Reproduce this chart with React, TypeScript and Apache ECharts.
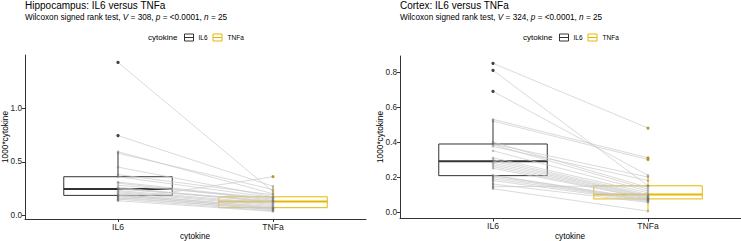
import React, { useEffect, useRef } from "react";
import * as echarts from "echarts";

const CATEGORIES = ["IL6", "TNFa"];
const BOX_COLORS = ["#333333", "#E7B800"];
const OUTLIER_COLORS = ["#000000", "#D9A800"];

// Hippocampus paired values (IL6[i] pairs with TNFa[i])
const hippoIL6 = [1.43, 0.745, 0.595, 0.58, 0.45, 0.38, 0.36, 0.31, 0.30, 0.28, 0.26, 0.25, 0.245, 0.23, 0.22, 0.21, 0.20, 0.19, 0.185, 0.18, 0.17, 0.16, 0.15, 0.14, 0.135];
const hippoTNFa = [0.22, 0.27, 0.20, 0.24, 0.172, 0.19, 0.165, 0.15, 0.14, 0.16, 0.12, 0.135, 0.128, 0.11, 0.10, 0.09, 0.07, 0.08, 0.06, 0.065, 0.05, 0.055, 0.04, 0.36, 0.035];

// Cortex paired values
const cortexIL6 = [0.85, 0.81, 0.69, 0.53, 0.52, 0.40, 0.389, 0.385, 0.375, 0.35, 0.31, 0.30, 0.291, 0.28, 0.27, 0.26, 0.25, 0.21, 0.208, 0.20, 0.19, 0.18, 0.16, 0.145, 0.133];
const cortexTNFa = [0.48, 0.15, 0.21, 0.31, 0.30, 0.14, 0.20, 0.13, 0.18, 0.12, 0.11, 0.10, 0.093, 0.09, 0.085, 0.08, 0.078, 0.075, 0.07, 0.068, 0.065, 0.06, 0.055, 0.149, 0.005];

const hippoTicks = [0, 0.5, 1.0];
const cortexTicks = [0, 0.2, 0.4, 0.6, 0.8];

const FONT = "Liberation Sans, Arial, sans-serif";
const BOX_WIDTH = 0.7;

function quantile(sorted: number[], p: number) {
  const h = (sorted.length - 1) * p;
  const lo = Math.floor(h);
  const hi = Math.min(lo + 1, sorted.length - 1);
  return sorted[lo] + (h - lo) * (sorted[hi] - sorted[lo]);
}

function boxStats(values: number[]) {
  const s = [...values].sort((a, b) => a - b);
  const q1 = quantile(s, 0.25);
  const med = quantile(s, 0.5);
  const q3 = quantile(s, 0.75);
  const iqr = q3 - q1;
  const inside = s.filter((v) => v >= q1 - 1.5 * iqr && v <= q3 + 1.5 * iqr);
  const outliers = s.filter((v) => v < q1 - 1.5 * iqr || v > q3 + 1.5 * iqr);
  return { lo: inside[0], q1, med, q3, hi: inside[inside.length - 1], outliers };
}

function panelSeries(idx: number, a: number[], b: number[]) {
  const sa = boxStats(a);
  const sb = boxStats(b);
  const boxData = [
    [1, sa.lo, sa.q1, sa.med, sa.q3, sa.hi, 0],
    [2, sb.lo, sb.q1, sb.med, sb.q3, sb.hi, 1],
  ];
  return [
    {
      type: "custom",
      xAxisIndex: idx,
      yAxisIndex: idx,
      z: 1,
      data: boxData,
      encode: { x: 0, y: [1, 2, 3, 4, 5] },
      renderItem: (params: any, api: any) => {
        const x = api.value(0);
        const ci = api.value(6);
        const color = BOX_COLORS[ci];
        const half = api.size([BOX_WIDTH, 0])[0] / 2;
        const pLo = api.coord([x, api.value(1)]);
        const pQ1 = api.coord([x, api.value(2)]);
        const pMed = api.coord([x, api.value(3)]);
        const pQ3 = api.coord([x, api.value(4)]);
        const pHi = api.coord([x, api.value(5)]);
        return {
          type: "group",
          children: [
            { type: "line", shape: { x1: pLo[0], y1: pLo[1], x2: pQ1[0], y2: pQ1[1] }, style: { stroke: color, lineWidth: 1 } },
            { type: "line", shape: { x1: pQ3[0], y1: pQ3[1], x2: pHi[0], y2: pHi[1] }, style: { stroke: color, lineWidth: 1 } },
            { type: "rect", shape: { x: pQ3[0] - half, y: pQ3[1], width: 2 * half, height: pQ1[1] - pQ3[1] }, style: { fill: "#ffffff", stroke: color, lineWidth: 1 } },
            { type: "line", shape: { x1: pMed[0] - half, y1: pMed[1], x2: pMed[0] + half, y2: pMed[1] }, style: { stroke: color, lineWidth: 2 } },
          ],
        };
      },
    },
    {
      type: "lines",
      coordinateSystem: "cartesian2d",
      xAxisIndex: idx,
      yAxisIndex: idx,
      z: 2,
      silent: true,
      lineStyle: { color: "#cacaca", width: 0.7, opacity: 1 },
      data: a.map((v, i) => ({ coords: [[1, v], [2, b[i]]] })),
    },
    {
      type: "scatter",
      xAxisIndex: idx,
      yAxisIndex: idx,
      z: 3,
      symbolSize: 3.2,
      itemStyle: { color: OUTLIER_COLORS[0] },
      data: sa.outliers.map((v) => [1, v]),
    },
    {
      type: "scatter",
      xAxisIndex: idx,
      yAxisIndex: idx,
      z: 3,
      symbolSize: 3.2,
      itemStyle: { color: OUTLIER_COLORS[1] },
      data: sb.outliers.map((v) => [2, v]),
    },
    {
      type: "scatter",
      xAxisIndex: idx,
      yAxisIndex: idx,
      z: 4,
      symbolSize: 2.6,
      itemStyle: { color: "rgba(100,100,100,0.5)" },
      data: [...a.map((v) => [1, v]), ...b.map((v) => [2, v])],
    },
  ];
}

function xAxisCfg(idx: number) {
  return {
    type: "value",
    gridIndex: idx,
    min: 0.4,
    max: 2.6,
    axisLine: { show: true, onZero: false, lineStyle: { color: "#333", width: 1 } },
    axisTick: { show: true, customValues: [1, 2], length: 3, lineStyle: { color: "#333" } },
    axisLabel: {
      customValues: [1, 2],
      formatter: (v: number) => CATEGORIES[Math.round(v) - 1] ?? "",
      fontSize: 8.6,
      color: "#222",
      fontFamily: FONT,
      margin: 3,
    },
    splitLine: { show: false },
  };
}

function yAxisCfg(idx: number, min: number, max: number, ticks: number[]) {
  return {
    type: "value",
    gridIndex: idx,
    min,
    max,
    axisLine: { show: true, onZero: false, lineStyle: { color: "#333", width: 1 } },
    axisTick: { show: true, customValues: ticks, length: 3, lineStyle: { color: "#333" } },
    axisLabel: {
      customValues: ticks,
      formatter: (v: number) => v.toFixed(1),
      fontSize: 8.2,
      color: "#222",
      fontFamily: FONT,
      margin: 3,
    },
    splitLine: { show: false },
  };
}

function headerGraphics(x: number, title: string, subtitle: string, legendX: number) {
  const textStyle = (t: string, size: number, extra: any = {}) => ({
    text: t,
    fontSize: size,
    fontFamily: FONT,
    fill: "#000",
    ...extra,
  });
  return [
    { type: "text", x, y: 5, style: { ...textStyle(title, 10), verticalAlign: "middle" } },
    {
      type: "text",
      x,
      y: 17,
      style: {
        ...textStyle(subtitle, 8.2),
        verticalAlign: "middle",
        rich: { i: { fontStyle: "italic", fontSize: 8.2, fontFamily: FONT, fill: "#000" } },
      },
    },
    { type: "text", x: legendX, y: 37.5, style: { ...textStyle("cytokine", 8), verticalAlign: "middle" } },
    { type: "rect", shape: { x: legendX + 36.5, y: 34, width: 9, height: 7 }, style: { fill: "#fff", stroke: BOX_COLORS[0], lineWidth: 1 } },
    { type: "line", shape: { x1: legendX + 36.5, y1: 37.5, x2: legendX + 45.5, y2: 37.5 }, style: { stroke: BOX_COLORS[0], lineWidth: 1 } },
    { type: "text", x: legendX + 50.5, y: 37.5, style: { ...textStyle("IL6", 6.5), verticalAlign: "middle" } },
    { type: "rect", shape: { x: legendX + 65, y: 34, width: 9, height: 7 }, style: { fill: "#fff", stroke: BOX_COLORS[1], lineWidth: 1 } },
    { type: "line", shape: { x1: legendX + 65, y1: 37.5, x2: legendX + 74, y2: 37.5 }, style: { stroke: BOX_COLORS[1], lineWidth: 1 } },
    { type: "text", x: legendX + 79.5, y: 37.5, style: { ...textStyle("TNFa", 6.5), verticalAlign: "middle" } },
  ];
}

function axisTitleGraphics(yTitleX: number, xTitleX: number) {
  return [
    {
      type: "text",
      x: yTitleX,
      y: 137,
      rotation: Math.PI / 2,
      style: { text: "1000*cytokine", fontSize: 8.3, fontFamily: FONT, fill: "#000", align: "center", verticalAlign: "middle" },
    },
    {
      type: "text",
      x: xTitleX,
      y: 236.5,
      style: { text: "cytokine", fontSize: 8.2, fontFamily: FONT, fill: "#000", align: "center", verticalAlign: "middle" },
    },
  ];
}

export default function App() {
  const ref = useRef<HTMLDivElement>(null);
  useEffect(() => {
    document.body.style.margin = "0";
    if (!ref.current) return;
    const chart = echarts.init(ref.current, undefined, { renderer: "svg" });
    const sub1 = "Wilcoxon signed rank test, {i|V} = 308, {i|p} = <0.0001, {i|n} = 25";
    const sub2 = "Wilcoxon signed rank test, {i|V} = 324, {i|p} = <0.0001, {i|n} = 25";
    chart.setOption({
      animation: false,
      backgroundColor: "#ffffff",
      grid: [
        { left: 25, top: 55, width: 341, height: 164, containLabel: false },
        { left: 400, top: 56, width: 341, height: 162.5, containLabel: false },
      ],
      xAxis: [xAxisCfg(0), xAxisCfg(1)],
      yAxis: [yAxisCfg(0, -0.036, 1.5, hippoTicks), yAxisCfg(1, -0.037, 0.892, cortexTicks)],
      series: [...panelSeries(0, hippoIL6, hippoTNFa), ...panelSeries(1, cortexIL6, cortexTNFa)],
      graphic: [
        ...headerGraphics(25, "Hippocampus: IL6 versus TNFa", sub1, 148),
        ...headerGraphics(400, "Cortex: IL6 versus TNFa", sub2, 523),
        ...axisTitleGraphics(5, 195),
        ...axisTitleGraphics(380, 570),
      ],
    });
    return () => chart.dispose();
  }, []);
  return <div ref={ref} style={{ width: 741, height: 241 }} />;
}
